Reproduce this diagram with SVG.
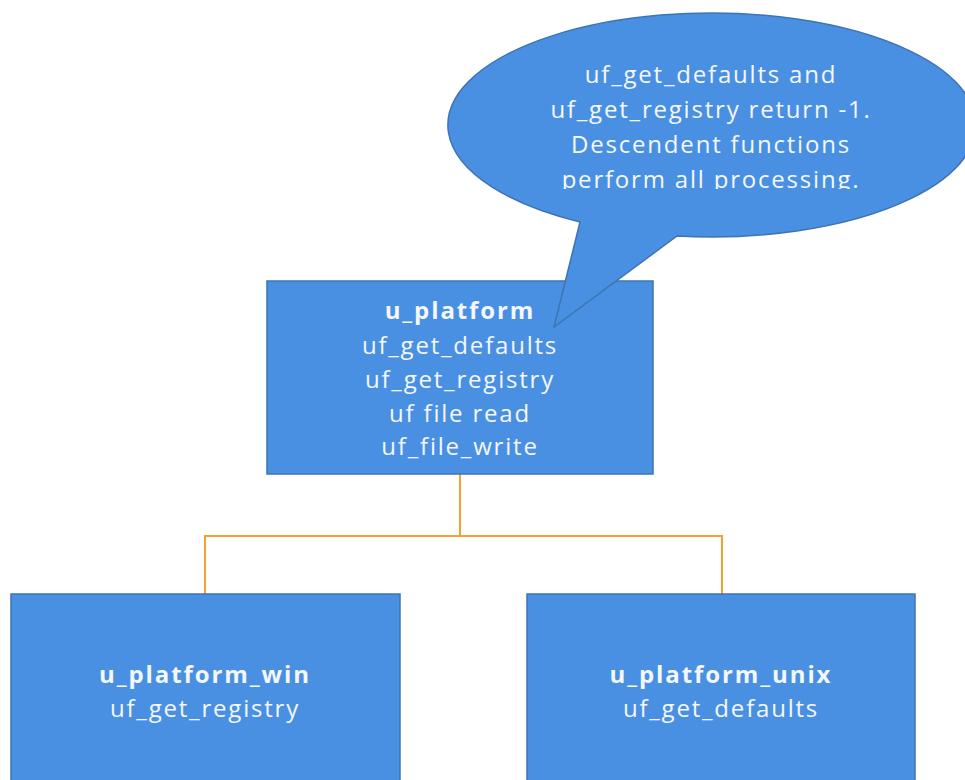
<svg xmlns="http://www.w3.org/2000/svg" width="965" height="780" viewBox="0 0 965 780">
<style>
.box{fill:#4a90e2;stroke:#3d74b3;stroke-width:1.5}
.t{font-family:"Open Sans","Noto Sans","DejaVu Sans",sans-serif;font-size:24px;letter-spacing:1.8px;fill:#f4f7fc;text-anchor:middle}
.b{font-weight:bold;letter-spacing:1.9px}
.conn{fill:none;stroke:#f5a02f;stroke-width:2}
</style>
<defs>
<clipPath id="cc"><rect x="0" y="0" width="965" height="189"/></clipPath>
</defs>
<rect width="965" height="780" fill="#ffffff"/>
<g id="connectors">
<path class="conn" d="M460,474 V536 M205,594 V536 H722 V594"/>
</g>
<g id="u_platform">
<rect class="box" x="267" y="281" width="386" height="193"/>
<text class="t b" x="460" y="319">u_platform</text>
<text class="t" x="460" y="354">uf_get_defaults</text>
<text class="t" x="460" y="388">uf_get_registry</text>
<text class="t" x="460" y="422">uf file read</text>
<text class="t" x="460" y="455">uf_file_write</text>
</g>
<g id="u_platform_win">
<rect class="box" x="11" y="594" width="389" height="200"/>
<text class="t b" x="205" y="683">u_platform_win</text>
<text class="t" x="205" y="717">uf_get_registry</text>
</g>
<g id="u_platform_unix">
<rect class="box" x="527" y="594" width="388" height="200"/>
<text class="t b" x="721" y="683">u_platform_unix</text>
<text class="t" x="721" y="717">uf_get_defaults</text>
</g>
<g id="callout">
<path class="box" d="M580,222 A264,112 0 1 1 677,236 L554,327 Z"/>
<g clip-path="url(#cc)">
<text class="t" x="711" y="83">uf_get_defaults and</text>
<text class="t" x="711" y="118">uf_get_registry return -1.</text>
<text class="t" x="711" y="153">Descendent functions</text>
<text class="t" x="711" y="188">perform all processing.</text>
</g>
</g>
</svg>
